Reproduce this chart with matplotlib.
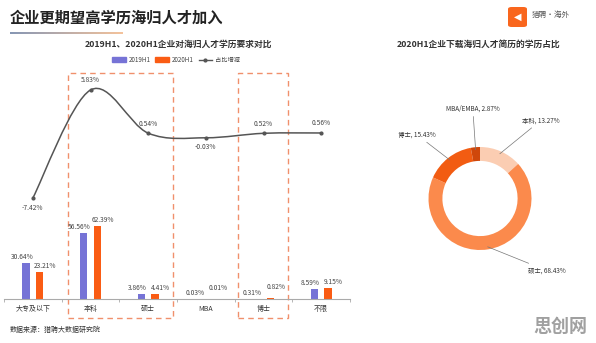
import matplotlib
matplotlib.use("Agg")
import matplotlib.pyplot as plt
import numpy as np
from matplotlib.path import Path
from matplotlib.patches import PathPatch, Rectangle, FancyBboxPatch, Patch
from matplotlib.lines import Line2D
from matplotlib.colors import LinearSegmentedColormap
from matplotlib.transforms import blended_transform_factory

plt.rcParams['font.family'] = ['Noto Sans CJK SC', 'DejaVu Sans']

# ---- data ----
categories = ['大专及以下', '本科', '硕士', 'MBA', '博士', '不限']
share_2019 = [30.64, 56.56, 3.86, 0.03, 0.31, 8.59]
share_2020 = [23.21, 62.39, 4.41, 0.01, 0.82, 9.15]
share_change = [-7.42, 5.83, 0.54, -0.03, 0.52, 0.56]

donut_labels = ['本科', '硕士', '博士', 'MBA/EMBA']
donut_values = [13.27, 68.43, 15.43, 2.87]

BLUE = '#7673d6'
ORANGE = '#fa5c14'
LINE = '#555555'
DONUT_COLORS = ['#fbcdb2', '#fb8a4c', '#f25c12', '#cf470b']

W, H = 596, 343
fig = plt.figure(figsize=(W / 100, H / 100), dpi=100)
fig.patch.set_facecolor('white')


def fx(px):
    return px / W


def fy(py):
    return 1 - py / H


# ---- titles ----
fig.text(fx(10), fy(18), '企业更期望高学历海归人才加入', fontsize=11, fontweight='bold',
         color='#222222', va='center', ha='left')
grad_ax = fig.add_axes([fx(10), fy(34), fx(113), 2 / H])
grad_cmap = LinearSegmentedColormap.from_list('u', ['#8797b4', '#f4c39c'])
grad_ax.imshow(np.linspace(0, 1, 100)[None, :], aspect='auto', cmap=grad_cmap)
grad_ax.axis('off')

fig.text(fx(178), fy(44), '2019H1、2020H1企业对海归人才学历要求对比', fontsize=6.3,
         fontweight='bold', color='#333333', ha='center', va='center')
fig.text(fx(479), fy(44), '2020H1企业下载海归人才简历的学历占比', fontsize=6.3,
         fontweight='bold', color='#333333', ha='center', va='center')

# logo
logo = FancyBboxPatch((fx(508), fy(27)), fx(19), 20 / H, boxstyle='round,pad=0,rounding_size=0.006',
                      transform=fig.transFigure, facecolor='#f9661d', edgecolor='none')
fig.patches.append(logo)
fig.text(fx(517.5), fy(16.5), '◀', fontsize=7, color='white', ha='center', va='center',
         family=['DejaVu Sans'])
fig.text(fx(532), fy(15), '猎聘·海外', fontsize=5.5, color='#555555', ha='left', va='center')

# ---- left chart ----
ax = fig.add_axes([fx(4), fy(299), fx(346), (299 - 75) / H])
x = np.arange(len(categories))
bw = 0.125
off = 0.12
ax.bar(x - off, share_2019, width=bw, color=BLUE, label='2019H1', zorder=2)
ax.bar(x + off, share_2020, width=bw, color=ORANGE, label='2020H1', zorder=2)
ax.set_xlim(-0.5, len(categories) - 0.5)
ax.set_ylim(0, 192)

for xi, v in zip(x, share_2019):
    ax.annotate(f'{v:.2f}%', (xi - off, v), xytext=(-3, 1.5), textcoords='offset points',
                ha='center', va='bottom', fontsize=4.8, color='#444444')
for xi, v in zip(x, share_2020):
    dy = 5 if v < 1 else 1.5
    ax.annotate(f'{v:.2f}%', (xi + off, v), xytext=(4, dy), textcoords='offset points',
                ha='center', va='bottom', fontsize=4.8, color='#444444')

for s in ['top', 'right', 'left']:
    ax.spines[s].set_visible(False)
ax.spines['bottom'].set_color('#aaaaaa')
ax.spines['bottom'].set_linewidth(0.8)
ax.set_yticks([])
ax.set_xticks(x)
ax.set_xticklabels(categories, fontsize=5, color='#333333')
ax.tick_params(axis='x', length=0, pad=4)
ax.set_xticks(np.arange(len(categories) + 1) - 0.5, minor=True)
ax.tick_params(axis='x', which='minor', length=2.5, color='#aaaaaa', width=0.6)

# smoothed change line on a secondary axis
ax2 = ax.twinx()
ax2.set_ylim(-19.8, 7.67)
ax2.axis('off')
pts = np.column_stack([x, share_change]).astype(float)
ext = np.vstack([pts[0], pts, pts[-1]])
verts = [tuple(pts[0])]
codes = [Path.MOVETO]
for i in range(len(pts) - 1):
    p0, p1, p2, p3 = ext[i], ext[i + 1], ext[i + 2], ext[i + 3]
    c1 = p1 + (p2 - p0) / 6
    c2 = p2 - (p3 - p1) / 6
    verts += [tuple(c1), tuple(c2), tuple(p2)]
    codes += [Path.CURVE4] * 3
ax2.add_patch(PathPatch(Path(verts, codes), facecolor='none', edgecolor=LINE, lw=1.1, zorder=3))
ax2.plot(x, share_change, 'o', color=LINE, markersize=2, zorder=4)
for xi, v in zip(x, share_change):
    below = v < 0
    ax2.annotate(f'{v:.2f}%', (xi, v), xytext=(0, -4 if below else 4), textcoords='offset points',
                 ha='center', va='top' if below else 'bottom', fontsize=4.8, color='#444444')

# dashed highlight boxes
tr = blended_transform_factory(ax.transData, fig.transFigure)
for x0, x1 in [(0.61, 2.43), (3.56, 4.43)]:
    r = Rectangle((x0, fy(318)), x1 - x0, (318 - 73) / H, transform=tr, fill=False,
                  edgecolor='#f0906c', lw=1, linestyle=(0, (4, 3)), clip_on=False, zorder=1)
    ax.add_patch(r)

handles = [Patch(color=BLUE, label='2019H1'), Patch(color=ORANGE, label='2020H1'),
           Line2D([], [], color=LINE, marker='o', markersize=2, lw=1, label='占比增减')]
fig.legend(handles=handles, loc='center', bbox_to_anchor=(fx(176), fy(60)), ncol=3,
           frameon=False, fontsize=4.5, handlelength=2.2, handleheight=0.8,
           columnspacing=0.8, handletextpad=0.4, labelcolor='#444444')

fig.text(fx(10), fy(330), '数据来源：猎聘大数据研究院', fontsize=5, color='#333333',
         ha='left', va='center')

# ---- donut ----
R = 51.5
half = 110
pax = fig.add_axes([fx(480 - half), fy(198.5 + half), fx(2 * half), 2 * half / H])
wedges, _ = pax.pie(donut_values, colors=DONUT_COLORS, startangle=90, counterclock=False,
                    radius=1, wedgeprops=dict(width=0.27, edgecolor='none'))
lim = half / R
pax.set_xlim(-lim, lim)
pax.set_ylim(-lim, lim)
pax.set_aspect('equal')
pax.axis('off')

label_pos = [(0.82, 1.52), (0.93, -1.40), (-0.86, 1.24), (-0.14, 1.75)]
for w, lab, val, (tx, ty) in zip(wedges, donut_labels, donut_values, label_pos):
    ang = np.deg2rad((w.theta1 + w.theta2) / 2)
    ex, ey = 1.0 * np.cos(ang), 1.0 * np.sin(ang)
    ha = 'left' if tx > 0 else ('right' if tx < -0.3 else 'center')
    pax.annotate(f'{lab}, {val:.2f}%', (ex * 0.95, ey * 0.95), xytext=(tx, ty),
                 ha=ha, va='center', fontsize=4.6, color='#333333',
                 arrowprops=dict(arrowstyle='-', color='#777777', lw=0.5, shrinkA=1, shrinkB=0))

fig.text(fx(560), fy(326), '思创网', fontsize=13, fontweight='bold', color='#a0a0a0',
         ha='center', va='center')

fig.savefig('out.png', dpi=100, facecolor='white')
